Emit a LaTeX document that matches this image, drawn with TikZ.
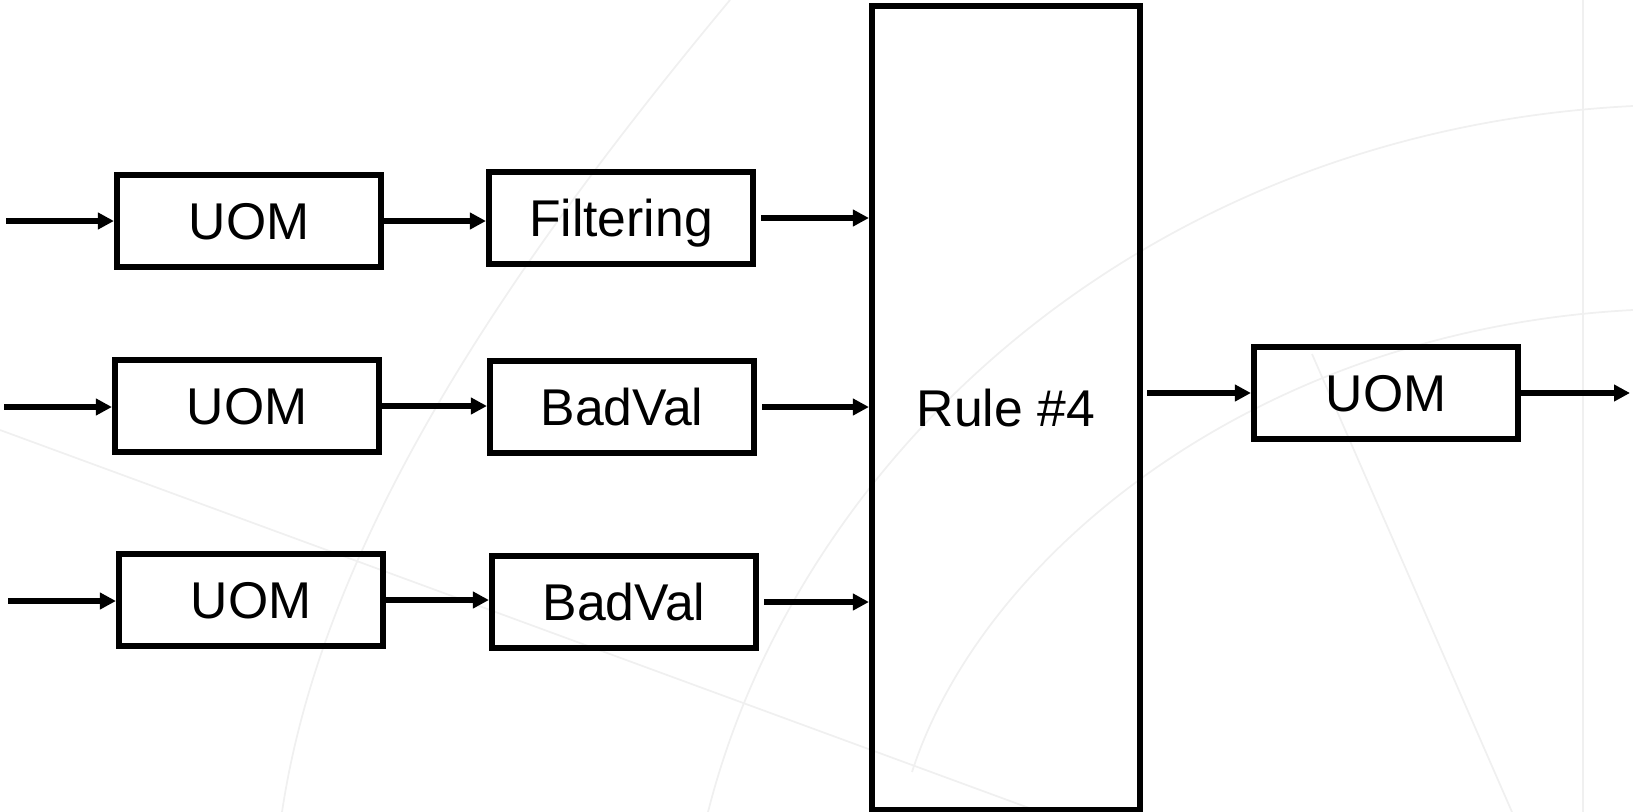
\documentclass[tikz,border=0pt]{standalone}
\usepackage{fontspec}
\setmainfont{Liberation Sans}
\usetikzlibrary{arrows.meta}

\tikzset{
    blk/.style={draw, line width=1.7pt, minimum width=2.64cm, minimum height=0.91cm,
                inner sep=0pt, text height=0.37cm, text depth=0pt,
                font=\fontsize{14.7}{17}\selectfont},
    flow/.style={-{Triangle[length=0.16cm,width=0.16cm]}, line width=1.6pt},
    bgline/.style={draw=gray!12, line width=0.5pt},
}

\begin{document}
\begin{tikzpicture}[x=0.01cm,y=-0.01cm]
        \useasboundingbox (0,0) rectangle (1633,812);
        % faint background curves
        \begin{scope}
            \draw [bgline] (730,0) .. controls (480,300) and (320,560) .. (282,812);
            \draw [bgline] (1633,106) .. controls (1150,130) and (800,450) .. (708,812);
            \draw [bgline] (1633,310) .. controls (1250,330) and (980,560) .. (912,772);
            \draw [bgline] (0,430) -- (1040,812);
            \draw [bgline] (1312,354) -- (1512,812);
            \draw [bgline] (1583,0) -- (1583,812);
        \end{scope}
        % boxes
        \node [blk] (uomA) at (249,221) {UOM};
        \node [blk] (filt) at (621,218) {Filtering};
        \node [blk] (uomB) at (247,406) {UOM};
        \node [blk] (badB) at (622,407) {BadVal};
        \node [blk] (uomC) at (251,600) {UOM};
        \node [blk] (badC) at (624,602) {BadVal};
        \node [blk, minimum width=2.68cm, minimum height=8.03cm] (rule) at (1006,408) {Rule \#4};
        \node [blk] (uomOut) at (1386,393) {UOM};
        \coordinate (inA) at (6,221);
        \coordinate (inB) at (4,407);
        \coordinate (inC) at (8,601);
        \coordinate (out) at (1630,393);
        % connectors
        \draw [flow] (inA) -- (inA -| uomA.west);
        \draw [flow] (inB) -- (inB -| uomB.west);
        \draw [flow] (inC) -- (inC -| uomC.west);
        \draw [flow] (uomA.east) -- (uomA.east -| filt.west);
        \draw [flow] (uomB.east) -- (uomB.east -| badB.west);
        \draw [flow] (uomC.east) -- (uomC.east -| badC.west);
        \draw [flow, shorten <=1.5pt] (filt.east) -- (filt.east -| rule.west);
        \draw [flow, shorten <=1.5pt] (badB.east) -- (badB.east -| rule.west);
        \draw [flow, shorten <=1.5pt] (badC.east) -- (badC.east -| rule.west);
        \draw [flow] ([xshift=1.2pt]rule.east |- uomOut.west) -- (uomOut.west);
        \draw [flow] (uomOut.east) -- (out);
    \end{tikzpicture}
\end{document}
